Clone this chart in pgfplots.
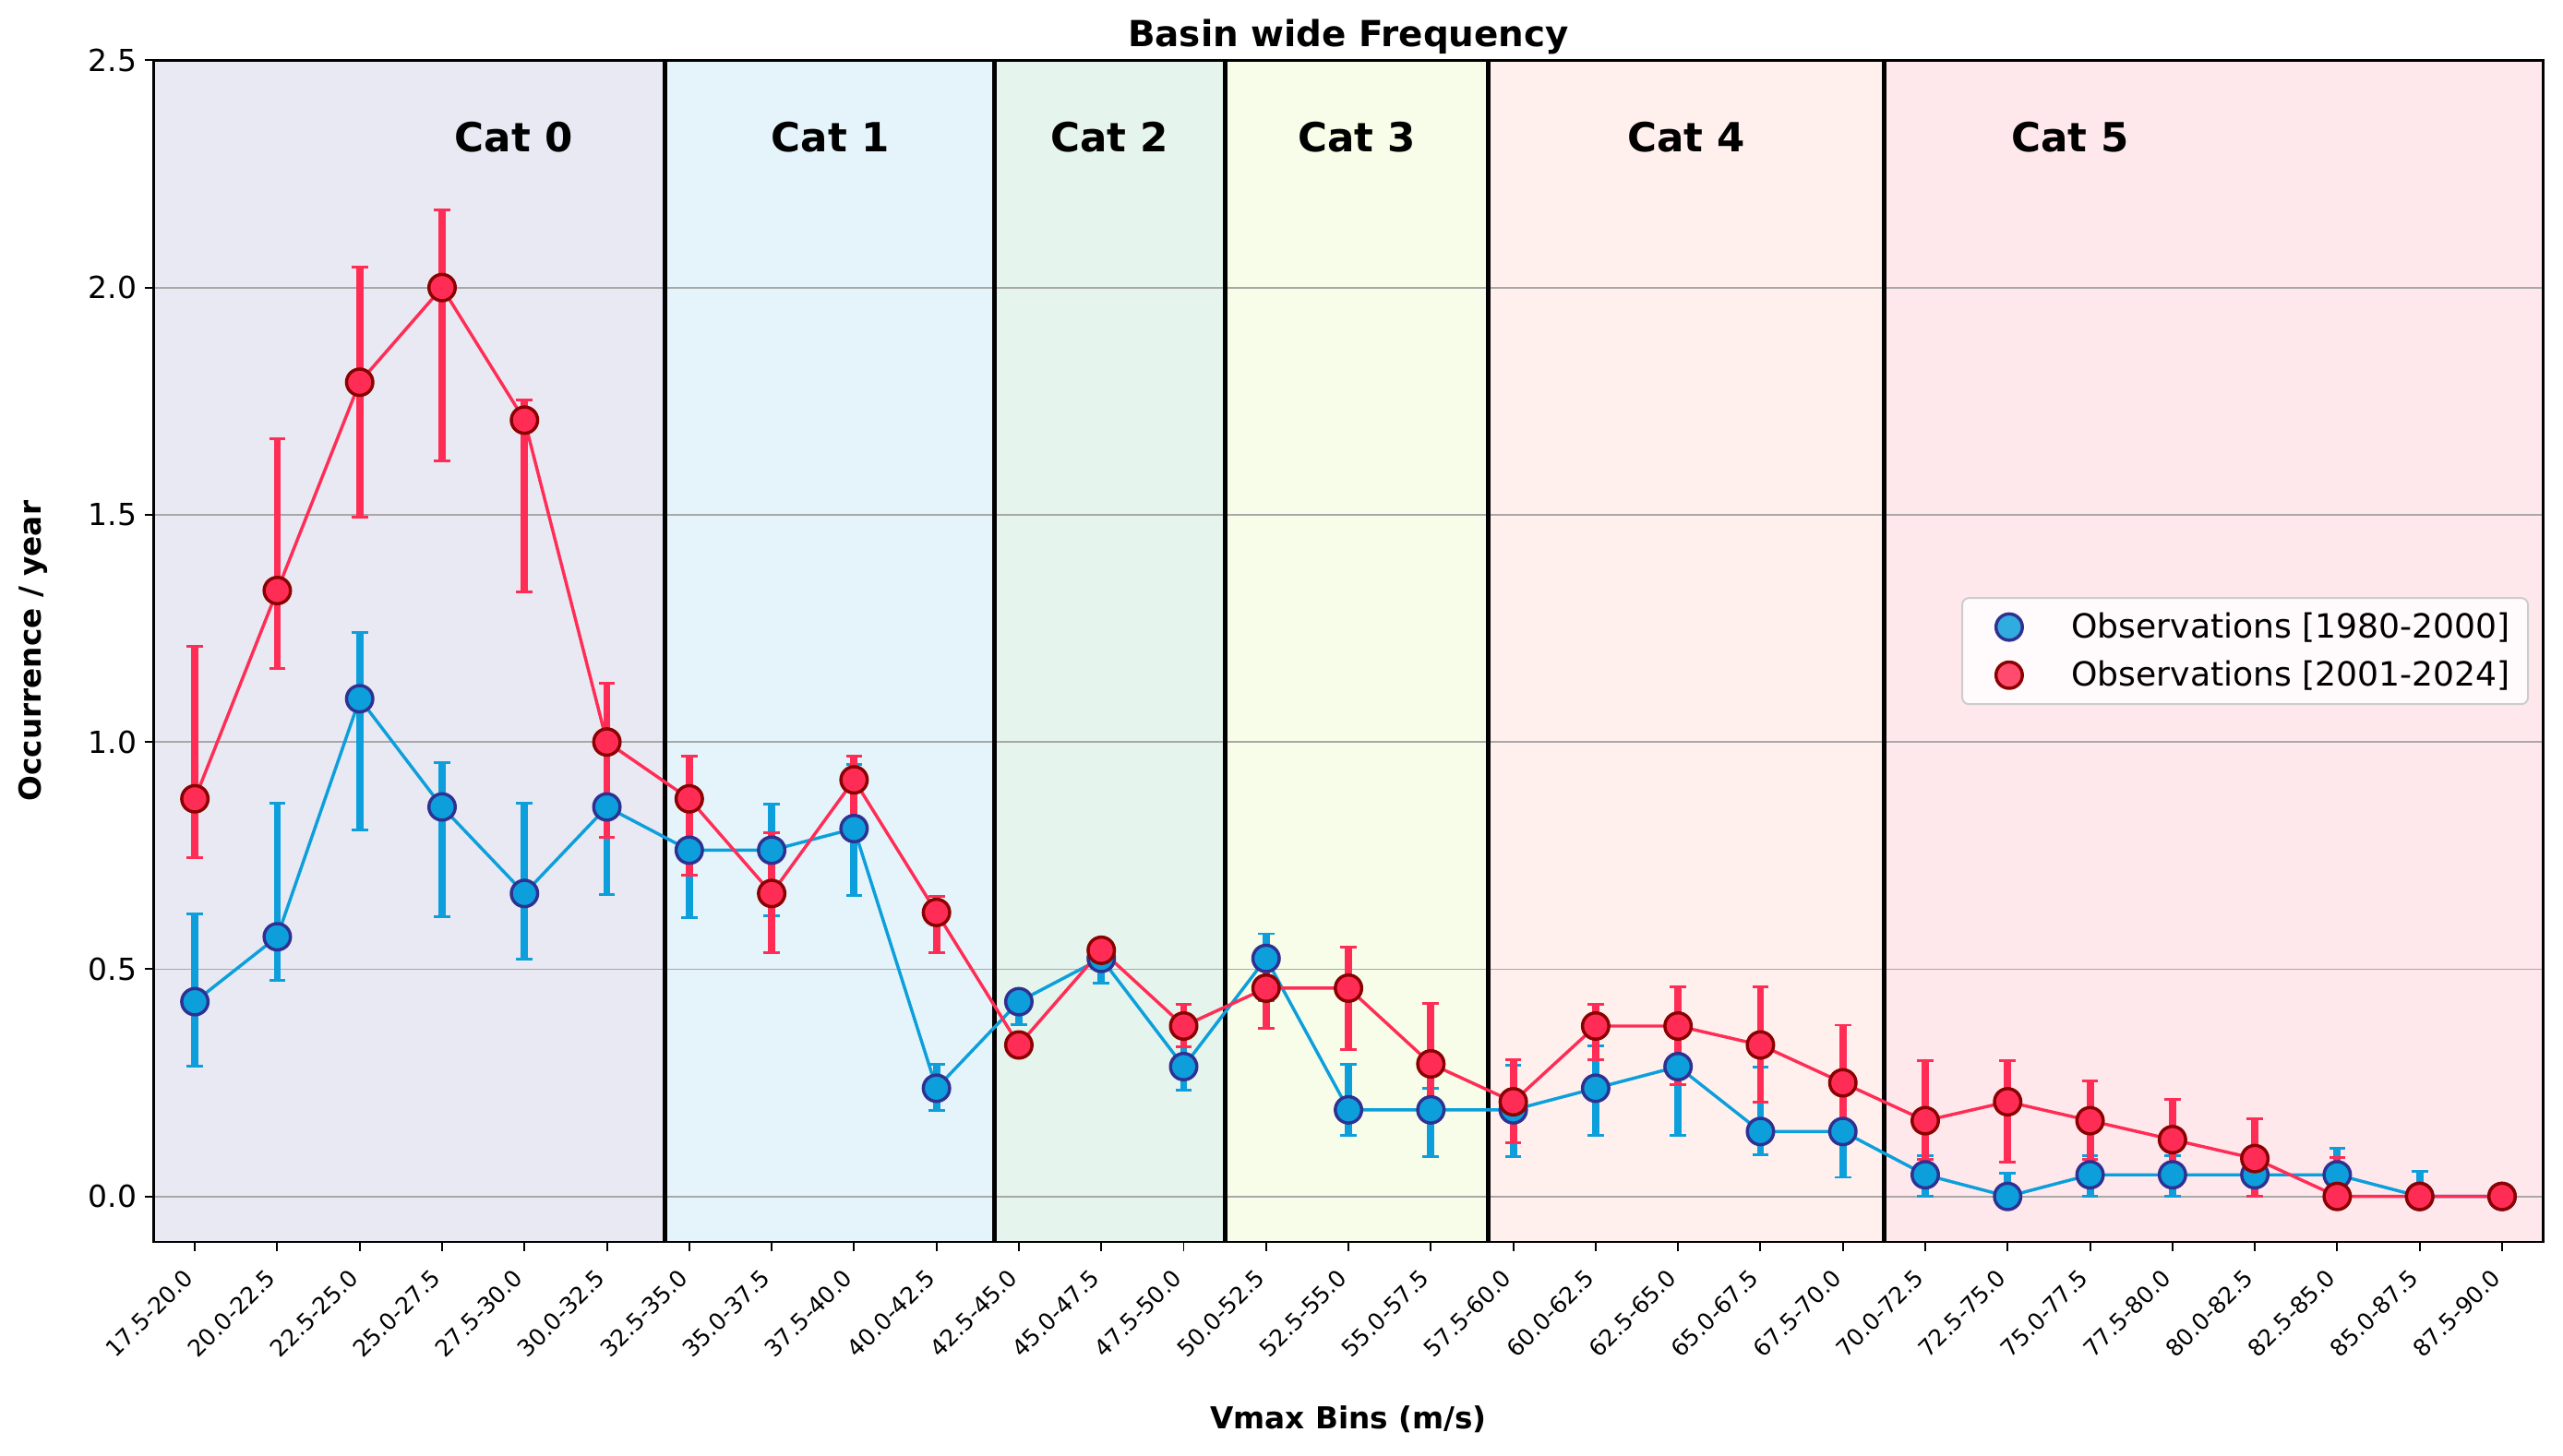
\documentclass[border=0pt]{standalone}
\usepackage{fontspec}
\setmainfont{DejaVu Sans}
\usepackage{pgfplots}
\pgfplotsset{compat=1.18}
\usepackage{pgfplotstable}
\definecolor{blueA}{HTML}{0C9FDB}
\definecolor{blueE}{HTML}{2E3192}
\definecolor{redA}{HTML}{FF2D55}
\definecolor{redE}{HTML}{8B0000}
\definecolor{cz}{HTML}{E9E9F3}
\definecolor{co}{HTML}{E5F4FB}
\definecolor{ct}{HTML}{E5F4EC}
\definecolor{cth}{HTML}{F7FDE9}
\definecolor{cf}{HTML}{FFF0EE}
\definecolor{cfi}{HTML}{FFE8EC}
\definecolor{gridc}{HTML}{A8A8A8}
\pgfplotsset{mylegimg/.style={legend image code/.code={\path[draw=none,fill=none] (0pt,-10.6pt) rectangle (48.1pt,10.6pt); \draw[##1] plot coordinates {(20.7pt,0pt)};}}}

\pgfplotstableread{
x y ep em
0 0.4286 0.1924 0.1426
1 0.5714 0.2936 0.0964
2 1.0952 0.1448 0.2892
3 0.8571 0.0979 0.2421
4 0.6667 0.1983 0.1437
5 0.8571 0.1429 0.1921
6 0.7619 0.0981 0.1479
7 0.7619 0.1011 0.1449
8 0.8095 0.1405 0.1465
9 0.2381 0.0529 0.0491
10 0.4286 0.0214 0.0496
11 0.5238 0.0262 0.0538
12 0.2857 0.0443 0.0527
13 0.5238 0.0542 0.0938
14 0.1905 0.1005 0.0565
15 0.1905 0.0465 0.1035
16 0.1905 0.0975 0.1035
17 0.2381 0.0939 0.1041
18 0.2857 0.0943 0.1517
19 0.1429 0.1411 0.0509
20 0.1429 0.0971 0.1009
21 0.0476 0.0424 0.0476
22 0 0.052 0
23 0.0476 0.0424 0.0476
24 0.0476 0.0424 0.0476
25 0.0476 0.0424 0.0476
26 0.0476 0.0584 0.0476
27 0 0.055 0
28 0 0 0
}\bluetab

\pgfplotstableread{
x y ep em
0 0.875 0.335 0.129
1 1.3333 0.3347 0.1723
2 1.7917 0.2533 0.2977
3 2.0 0.17 0.381
4 1.7083 0.0437 0.3783
5 1.0 0.129 0.209
6 0.875 0.093 0.168
7 0.6667 0.1333 0.1297
8 0.9167 0.0513 0.0867
9 0.625 0.035 0.089
10 0.3333 0 0
11 0.5417 0.0183 0.0317
12 0.375 0.048 0.045
13 0.4583 0.0417 0.0893
14 0.4583 0.0907 0.1353
15 0.2917 0.1323 0.0817
16 0.2083 0.0927 0.0893
17 0.375 0.048 0.075
18 0.375 0.087 0.128
19 0.3333 0.1287 0.1263
20 0.25 0.127 0.125
21 0.1667 0.1323 0.0847
22 0.2083 0.0907 0.1323
23 0.1667 0.0883 0.0847
24 0.125 0.089 0.083
25 0.0833 0.0867 0.0833
26 0 0.085 0
27 0 0 0
28 0 0 0
}\redtab

\begin{document}
\begin{tikzpicture}
\begin{axis}[
  set layers,
  scale only axis, width=1052.6pt, height=520.6pt,
  xmin=-0.5, xmax=28.5, ymin=-0.1, ymax=2.5,
  xtick={0,...,28},
  xticklabels={17.5-20.0,20.0-22.5,22.5-25.0,25.0-27.5,27.5-30.0,30.0-32.5,32.5-35.0,35.0-37.5,37.5-40.0,40.0-42.5,42.5-45.0,45.0-47.5,47.5-50.0,50.0-52.5,52.5-55.0,55.0-57.5,57.5-60.0,60.0-62.5,62.5-65.0,65.0-67.5,67.5-70.0,70.0-72.5,72.5-75.0,75.0-77.5,77.5-80.0,80.0-82.5,82.5-85.0,85.0-87.5,87.5-90.0},
  x tick label style={xshift=-5.5pt, yshift=-4.9pt, rotate=45, anchor=north east, font=\fontsize{10.2}{12}\selectfont, inner sep=1.5pt},
  ytick={0,0.5,1,1.5,2,2.5},
  /pgf/number format/assume math mode=true,
  yticklabel style={/pgf/number format/fixed, /pgf/number format/fixed zerofill, /pgf/number format/precision=1, font=\fontsize{13.4}{15}\selectfont},
  ymajorgrids, grid style={color=gridc, line width=0.75pt},
  tick align=outside, xtick pos=bottom, ytick pos=left,
  major tick length=4pt, tick style={black, line width=0.8pt},
  axis line style={line width=1pt},
  title={Basin wide Frequency},
  every axis title/.style={at={(axis description cs:0.5,1)}, anchor=base, yshift=6.1pt, font=\bfseries\fontsize{15.8}{19}\selectfont},
  xlabel={Vmax Bins (m/s)}, ylabel={Occurrence / year},
  xlabel style={font=\bfseries\fontsize{13.3}{15}\selectfont, at={([yshift=-78pt]axis description cs:0.5,0)}, anchor=center},
  ylabel style={font=\bfseries\fontsize{13.3}{15}\selectfont, at={([xshift=-53pt]axis description cs:0,0.5)}, anchor=center},
  legend style={at={(rel axis cs:0.994,0.5)}, anchor=east, font=\fontsize{14.7}{17}\selectfont, draw=black!20, line width=0.8pt, rounded corners=3pt, fill=white, fill opacity=0.85, text opacity=1, row sep=0pt, column sep=0pt, inner xsep=0pt, inner ysep=2.2pt, nodes={inner sep=0pt}},
  legend cell align=left,
]
\begin{pgfonlayer}{axis background}
\fill[cz] (axis cs:-0.5,-0.1) rectangle (axis cs:5.7,2.5);
\fill[co] (axis cs:5.7,-0.1) rectangle (axis cs:9.7,2.5);
\fill[ct] (axis cs:9.7,-0.1) rectangle (axis cs:12.5,2.5);
\fill[cth] (axis cs:12.5,-0.1) rectangle (axis cs:15.7,2.5);
\fill[cf] (axis cs:15.7,-0.1) rectangle (axis cs:20.5,2.5);
\fill[cfi] (axis cs:20.5,-0.1) rectangle (axis cs:28.5,2.5);
\end{pgfonlayer}
\draw[black, line width=2pt] (axis cs:5.7,-0.1) -- (axis cs:5.7,2.5);
\draw[black, line width=2pt] (axis cs:9.7,-0.1) -- (axis cs:9.7,2.5);
\draw[black, line width=2pt] (axis cs:12.5,-0.1) -- (axis cs:12.5,2.5);
\draw[black, line width=2pt] (axis cs:15.7,-0.1) -- (axis cs:15.7,2.5);
\draw[black, line width=2pt] (axis cs:20.5,-0.1) -- (axis cs:20.5,2.5);
\node[font=\bfseries\fontsize{17.7}{20}\selectfont] at (axis cs:3.87,2.33) {Cat 0};
\node[font=\bfseries\fontsize{17.7}{20}\selectfont] at (axis cs:7.71,2.33) {Cat 1};
\node[font=\bfseries\fontsize{17.7}{20}\selectfont] at (axis cs:11.1,2.33) {Cat 2};
\node[font=\bfseries\fontsize{17.7}{20}\selectfont] at (axis cs:14.1,2.33) {Cat 3};
\node[font=\bfseries\fontsize{17.7}{20}\selectfont] at (axis cs:18.1,2.33) {Cat 4};
\node[font=\bfseries\fontsize{17.7}{20}\selectfont] at (axis cs:22.76,2.33) {Cat 5};

\addplot[forget plot, draw=none, mark=none, blueA,
  error bars/.cd, y dir=both, y explicit,
  error bar style={draw=blueA, line width=3.2pt},
  error mark options={rotate=90, draw=blueA, line width=1.2pt, mark size=3.6pt}]
  table[x=x, y=y, y error plus=ep, y error minus=em]{\bluetab};
\addplot[forget plot, draw=none, mark=none, redA,
  error bars/.cd, y dir=both, y explicit,
  error bar style={draw=redA, line width=3.2pt},
  error mark options={rotate=90, draw=redA, line width=1.2pt, mark size=3.6pt}]
  table[x=x, y=y, y error plus=ep, y error minus=em]{\redtab};
\addplot[forget plot, blueA, line width=1.4pt, mark=*, mark size=5.8pt,
  mark options={fill=blueA, draw=blueE, line width=1.4pt, solid}]
  table[x=x, y=y]{\bluetab};
\addplot[forget plot, redA, line width=1.4pt, mark=*, mark size=5.8pt,
  mark options={fill=redA, draw=redE, line width=1.4pt, solid}]
  table[x=x, y=y]{\redtab};
\addlegendimage{only marks, mark=*, mark size=5.8pt, mark options={fill=blueA, draw=blueE, line width=1.4pt}, mylegimg}
\addlegendentry{Observations [1980-2000]\hspace*{7.7pt}}
\addlegendimage{only marks, mark=*, mark size=5.8pt, mark options={fill=redA, draw=redE, line width=1.4pt}, mylegimg}
\addlegendentry{Observations [2001-2024]\hspace*{7.7pt}}
\end{axis}
\pgfresetboundingbox
\path[use as bounding box] (-67.7pt,-94pt) rectangle (1061.3pt,547.2pt);
\end{tikzpicture}
\end{document}
